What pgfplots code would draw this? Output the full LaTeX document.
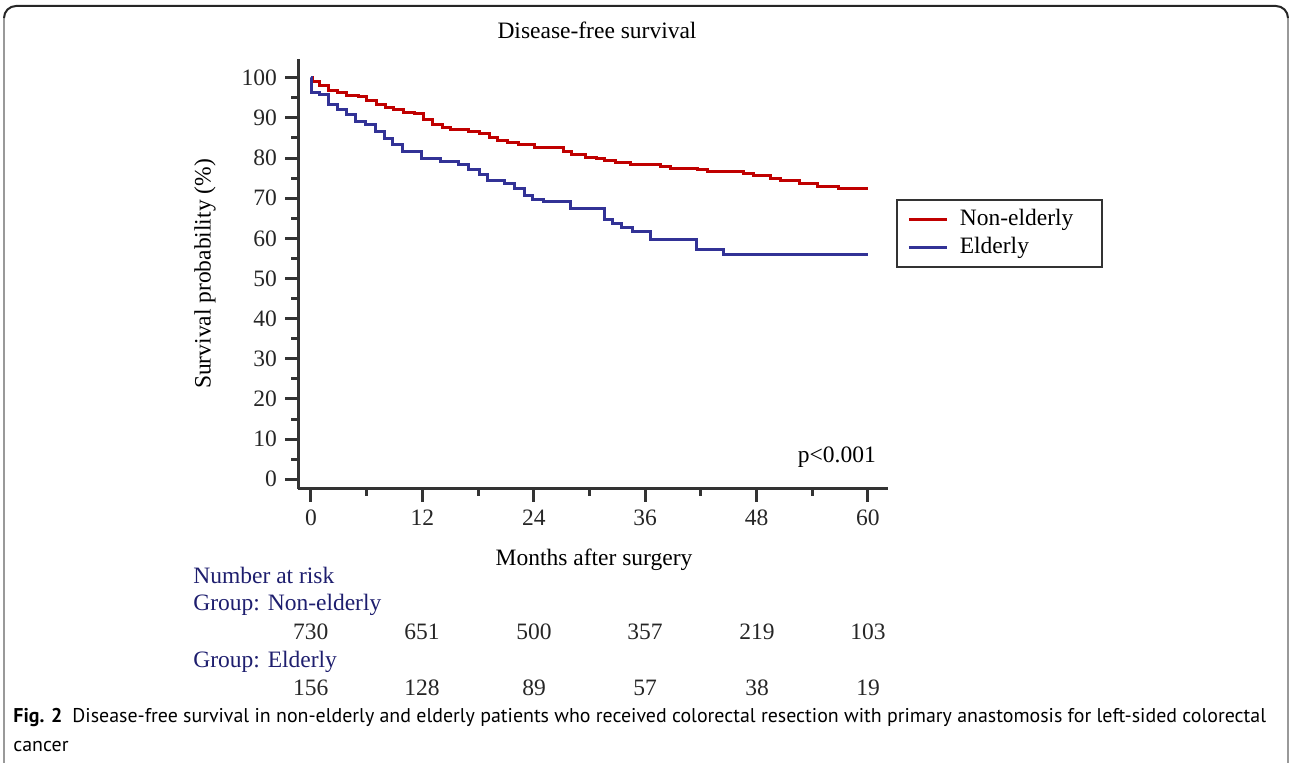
\documentclass[border=0pt]{standalone}
\usepackage{fontspec}
\setmainfont{Liberation Serif}
\newfontfamily\capfont{PT Sans}
\usepackage{pgfplots}
\pgfplotsset{compat=1.18}
\usepackage{pgfplotstable}

\definecolor{kmred}{RGB}{192,0,0}
\definecolor{kmblue}{RGB}{50,50,150}
\definecolor{navy}{RGB}{30,30,110}
\definecolor{axisgray}{RGB}{51,51,51}

% Kaplan-Meier estimates (month, survival %)
\pgfplotstableread{
t s
0 100
0.2 99.1
0.9 98.1
1.9 96.8
2.9 96.2
3.8 95.6
5.1 95.2
6.0 94.2
7.1 93.4
8.0 92.7
8.9 92.0
10.0 91.4
11.1 91.0
12.1 89.7
13.1 88.3
14.2 87.5
15.0 87.0
17.0 86.5
18.1 86.0
19.2 85.2
20.1 84.4
21.2 83.9
22.3 83.3
24.1 82.7
26.3 82.5
27.2 81.6
28.1 80.8
29.6 80.2
30.8 79.8
31.6 79.4
32.8 78.8
34.4 78.3
37.6 77.9
38.7 77.5
41.6 77.1
42.7 76.6
46.6 76.2
47.7 75.6
49.5 74.9
50.6 74.3
52.6 73.6
54.6 72.9
56.8 72.3
60 72.3
}\nonelderly

\pgfplotstableread{
t s
0 100
0.05 96.4
0.9 95.9
1.9 93.3
2.9 92.0
3.8 90.8
4.8 89.1
5.9 88.3
7.0 86.6
7.9 84.8
8.8 83.3
9.9 81.6
11.9 79.8
13.9 79.1
15.9 78.3
17.0 77.1
18.1 75.8
19.0 74.4
20.8 73.7
21.9 72.5
23.0 70.6
23.9 69.7
25.0 69.2
28.0 67.5
31.6 64.8
32.5 63.8
33.5 62.8
34.6 61.7
36.6 59.6
41.5 57.1
44.4 55.9
60 55.9
}\elderly

\begin{document}
\fontsize{11.75pt}{14pt}\selectfont
\begin{tikzpicture}
\begin{scope}[x=0.5pt,y=-0.5pt]
  \useasboundingbox (0,0) rectangle (1290,763);
  % figure frame: dark top edge, grey sides
  \draw[line width=1pt, gray!80] (4,775) -- (4,18);
  \draw[line width=1pt, gray!80] (1288,18) -- (1288,775);
  \draw[line width=1pt, black!85] (4,18) arc[start angle=180,end angle=270,radius=12]
    -- (1276,6) arc[start angle=270,end angle=360,radius=12];
  \node[anchor=base] at (597,39) {Disease-free survival};
  \node[rotate=90] at (205,274) {Survival probability (\%)};
  \node[anchor=base] at (594,566) {Months after surgery};
  \node[anchor=base east] at (884,463) {p<0.001};
  % number at risk
  \node[anchor=base west, text=navy, inner sep=0pt] at (193,584) {Number at risk};
  \node[anchor=base west, text=navy, inner sep=0pt] at (193,611) {Group: Non-elderly};
  \node[anchor=base west, text=navy, inner sep=0pt] at (193,668) {Group: Elderly};
  \foreach \x/\n in {310.7/730, 422/651, 534/500, 645/357, 757/219, 868/103}
    \node[anchor=base, text=black!85] at (\x,640) {\n};
  \foreach \x/\n in {310.7/156, 422/128, 534/89, 645/57, 757/38, 868/19}
    \node[anchor=base, text=black!85] at (\x,696) {\n};
  % caption
  \node[anchor=base west, inner sep=0pt, font=\capfont\fontsize{9.95pt}{12pt}\selectfont] at (13,723)
    {\textbf{Fig. 2}\hspace{5pt}Disease-free survival in non-elderly and elderly patients who received colorectal resection with primary anastomosis for left-sided colorectal};
  \node[anchor=base west, inner sep=0pt, font=\capfont\fontsize{9.95pt}{12pt}\selectfont] at (13,751) {cancer};
\end{scope}

\begin{axis}[
  at={(149pt,-244.5pt)}, anchor=south west,
  scale only axis, width=295.15pt, height=215pt,
  xmin=-1.40, xmax=62.19, ymin=-2.415, ymax=104.66,
  axis x line*=bottom, axis y line*=left,
  axis line style={-, axisgray, line width=1.5pt},
  every tick/.style={axisgray, line width=1.5pt},
  tick align=outside,
  major tick length=6.5pt, minor tick length=3.5pt,
  xtick={0,12,...,60}, ytick={0,10,...,100},
  minor x tick num=1, minor y tick num=1,
  /pgf/number format/assume math mode=true,
  ticklabel style={text=black!85},
  legend style={at={(1.0136,0.6744)}, anchor=north west, draw=axisgray, line width=1pt,
    inner xsep=5pt, inner ysep=4.5pt, row sep=3.5pt,
    nodes={inner sep=0pt, text height=8pt, text depth=2.5pt}},
  legend cell align=left,
  legend image code/.code={\draw[#1, line width=1.5pt] (0pt,0pt) -- (19pt,0pt);
    \path[draw=none, fill=none] (0pt,-3pt) rectangle (25.5pt,3pt);},
]
\addplot[const plot, kmred, line width=1.5pt] table[x=t, y=s] {\nonelderly};
\addlegendentry{\makebox[66pt][l]{Non-elderly}}
\addplot[const plot, kmblue, line width=1.5pt] table[x=t, y=s] {\elderly};
\addlegendentry{\makebox[66pt][l]{Elderly}}
\end{axis}
\end{tikzpicture}
\end{document}
